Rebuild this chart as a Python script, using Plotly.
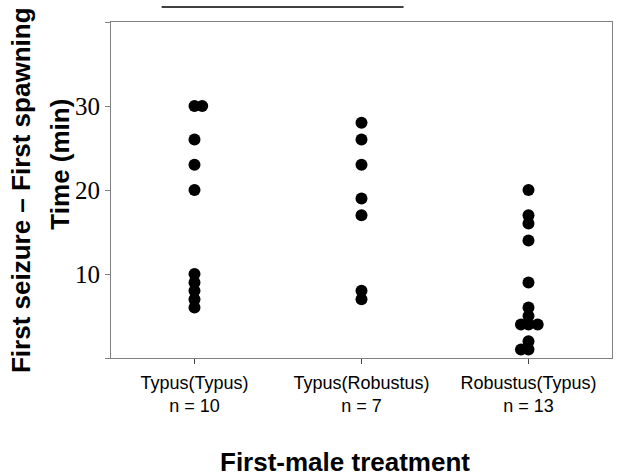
import plotly.graph_objects as go

# Data
categories = ["Typus(Typus)", "Typus(Robustus)", "Robustus(Typus)"]
n_labels = ["n = 10", "n = 7", "n = 13"]

typus_typus = [30, 30, 26, 23, 20, 10, 9, 8, 7, 6]
typus_typus_jit = [0, 0.046, 0, 0, 0, 0, 0, 0, 0, 0]

typus_robustus = [28, 26, 23, 19, 17, 8, 7]
typus_robustus_jit = [0, 0, 0, 0, 0, 0, 0]

robustus_typus = [20, 17, 16, 14, 9, 6, 5, 4, 4, 4, 2, 1, 1]
robustus_typus_jit = [0, 0, 0, 0, 0, 0, 0, -0.045, 0, 0.055, 0, -0.045, 0]

y_ticks = [0, 10, 20, 30, 40]
y_ticktext = ["", "10", "20", "30", ""]

groups = [typus_typus, typus_robustus, robustus_typus]
jits = [typus_typus_jit, typus_robustus_jit, robustus_typus_jit]

fig = go.Figure()
for i, (vals, jit) in enumerate(zip(groups, jits)):
    fig.add_trace(go.Scatter(
        x=[i + j for j in jit], y=vals, mode="markers",
        marker=dict(color="black", size=12, symbol="circle", line=dict(width=0)),
        showlegend=False, hoverinfo="y"))

axis_col = "#808080"
fig.update_layout(
    width=619, height=476,
    margin=dict(l=111, r=7, t=22, b=118),
    plot_bgcolor="white", paper_bgcolor="white",
    xaxis=dict(
        range=[-0.5, 2.5], tickmode="array", tickvals=[0, 1, 2],
        ticktext=[f"{c}<br>{n}" for c, n in zip(categories, n_labels)],
        ticks="outside", ticklen=5, tickcolor="#444", showgrid=False, zeroline=False,
        showline=True, linecolor=axis_col, linewidth=1, mirror=True,
        ticklabelstandoff=3,
        tickfont=dict(family="Liberation Sans, Arial", size=18, color="black"),
    ),
    yaxis=dict(
        range=[0, 40], tickmode="array", tickvals=y_ticks, ticktext=y_ticktext,
        ticks="outside", ticklen=5, tickcolor=axis_col, showgrid=False, zeroline=False,
        showline=True, linecolor=axis_col, linewidth=1, mirror=True,
        tickfont=dict(family="Liberation Serif, Times New Roman", size=25, color="black"),
    ),
    annotations=[
        dict(text="<b>First-male treatment</b>", xref="paper", yref="paper",
             x=0.467, y=-0.31, xanchor="center", yanchor="middle", showarrow=False,
             font=dict(family="Liberation Sans, Arial", size=26, color="black")),
        dict(text="<b>First seizure \u2013 First spawning</b>", xref="paper", yref="paper",
             x=-0.1796, y=0.5, xanchor="center", yanchor="middle", showarrow=False,
             textangle=-90,
             font=dict(family="Liberation Sans, Arial", size=26, color="black")),
        dict(text="<b>Time (min)</b>", xref="paper", yref="paper",
             x=-0.1008, y=0.577, xanchor="center", yanchor="middle", showarrow=False,
             textangle=-90,
             font=dict(family="Liberation Sans, Arial", size=26, color="black")),
    ],
    shapes=[
        dict(type="line", xref="paper", yref="paper", x0=0.101, x1=0.584,
             y0=1.045, y1=1.045, line=dict(color="black", width=1.5)),
    ],
)

fig.write_html("out.html")
